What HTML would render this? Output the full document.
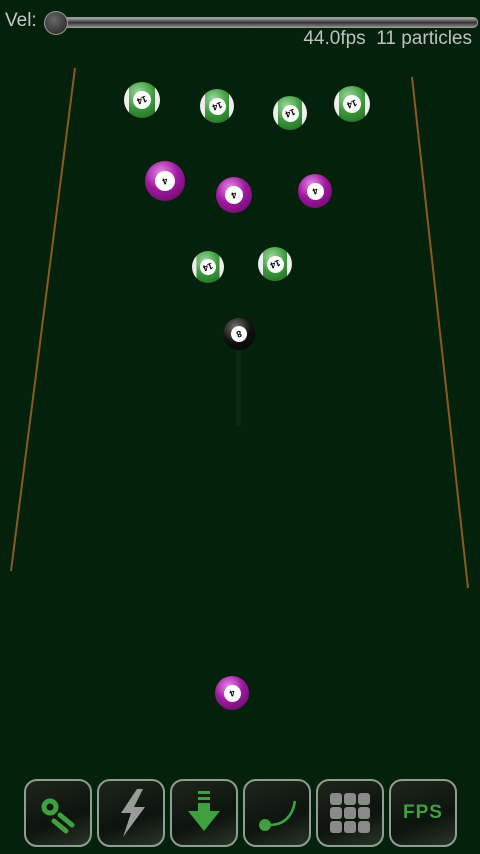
<!DOCTYPE html>
<html><head><meta charset="utf-8"><style>
html,body{margin:0;padding:0;width:480px;height:854px;overflow:hidden;background:#04210b;font-family:"Liberation Sans","DejaVu Sans",sans-serif}
.abs{position:absolute}
.btn{position:absolute;top:779px;width:64px;height:64px;border:2px solid #8f9e90;border-radius:13px;background:linear-gradient(160deg,#1d261d 0%,#0d130d 60%,#2a352a 100%);box-sizing:content-box}
.ball{position:absolute;border-radius:50%;display:flex;align-items:center;justify-content:center}
.g{background:linear-gradient(90deg,#eee 0 14%,transparent 14% 86%,#eee 86%),radial-gradient(circle at 40% 30%,#9fd99f,#3c9a3c 45%,#1f5f1f 100%)}
.p{background:radial-gradient(circle at 40% 30%,#e88be8,#a018a0 45%,#5a0a5a 100%)}
.k{background:radial-gradient(circle at 40% 30%,#777,#111 50%,#000 100%)}
.num{background:#fff;border-radius:50%;width:50%;height:50%;font-size:9px;font-weight:bold;color:#000;display:flex;align-items:center;justify-content:center;transform:rotate(160deg)}
</style></head><body>
<div class="abs" style="left:5px;top:10px;font-size:19px;color:#c8c8c8">Vel:</div>
<div class="abs" style="left:48px;top:17px;width:428px;height:9px;border-radius:5px;background:linear-gradient(#aaa,#333 50%,#888);border:1px solid #999"></div>
<div class="abs" style="left:44px;top:11px;width:22px;height:22px;border-radius:50%;background:radial-gradient(circle at 40% 35%,#666,#222);border:1px solid #999"></div>
<div class="abs" style="right:8px;top:28px;font-size:19px;color:#c0c0c0">44.0fps&nbsp; 11 particles</div>
<svg class="abs" style="left:0;top:0" width="480" height="854">
<line x1="75" y1="68" x2="11" y2="571" stroke="#8a5a20" stroke-width="2"/>
<line x1="412" y1="77" x2="468" y2="588" stroke="#8a5a20" stroke-width="2"/>
<rect x="236" y="350" width="5" height="76" fill="#0a2a0f"/>
</svg>
<div id="balls"></div>
<div class="btn" style="left:24px"><svg width="64" height="64"><circle cx="24" cy="26" r="6" fill="none" stroke="#3ea03e" stroke-width="5"/><line x1="28" y1="40" x2="40" y2="50" stroke="#3ea03e" stroke-width="5" stroke-linecap="round"/><line x1="34" y1="34" x2="46" y2="44" stroke="#3ea03e" stroke-width="5" stroke-linecap="round"/></svg></div>
<div class="btn" style="left:97px"><svg width="64" height="64"><polygon points="38,8 22,32 32,32 24,56 46,26 35,26 44,8" fill="#9a9a9a"/></svg></div>
<div class="btn" style="left:170px"><svg width="64" height="64"><rect x="26" y="10" width="12" height="3" fill="#3ea03e"/><rect x="26" y="16" width="12" height="3" fill="#3ea03e"/><rect x="26" y="22" width="12" height="8" fill="#3ea03e"/><polygon points="16,30 48,30 32,50" fill="#3ea03e"/></svg></div>
<div class="btn" style="left:243px"><svg width="64" height="64"><circle cx="20" cy="44" r="6" fill="#3ea03e"/><path d="M24 44 Q46 44 50 20" fill="none" stroke="#3ea03e" stroke-width="2.5"/></svg></div>
<div class="btn" style="left:316px"><svg width="64" height="64" id="grid"></svg></div>
<div class="btn" style="left:389px;color:#3ea03e;font-weight:bold;font-size:19px;display:flex;align-items:center;justify-content:center;letter-spacing:1px">FPS</div>
<script>
const ballX=[142,217,290,352,208,275,165,234,315,232,239];
const ballY=[100,106,113,104,267,264,181,195,191,693,334];
const ballR=[18,17,17,18,16,17,20,18,17,17,16];
const ballType=['g','g','g','g','g','g','p','p','p','p','k'];
const ballNum=['14','14','14','14','14','14','4','4','4','4','8'];
const c=document.getElementById('balls');
for(let i=0;i<ballX.length;i++){
 const d=document.createElement('div');
 
 
 d.className='ball '+ballType[i];
 const r=ballR[i];
 d.style.left=(ballX[i]-r)+'px';d.style.top=(ballY[i]-r)+'px';d.style.width=d.style.height=(2*r)+'px';
 const n=document.createElement('div');n.className='num';n.textContent=ballNum[i];
 
 
 d.appendChild(n);c.appendChild(d);
}
const g=document.getElementById('grid');
for(let r=0;r<3;r++)for(let q=0;q<3;q++){
 const e=document.createElementNS('http://www.w3.org/2000/svg','rect');
 e.setAttribute('x',12+q*14);e.setAttribute('y',12+r*14);e.setAttribute('width',12);e.setAttribute('height',12);e.setAttribute('rx',3);e.setAttribute('fill','#8a8a8a');
 g.appendChild(e);
}
</script>
</body></html>
